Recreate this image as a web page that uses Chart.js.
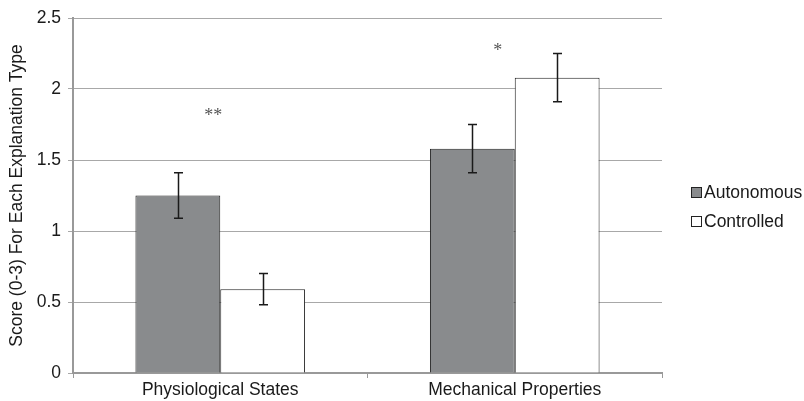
<!DOCTYPE html>
<html>
<head>
<meta charset="utf-8">
<script src="https://cdn.jsdelivr.net/npm/chart.js@4.4.1/dist/chart.umd.min.js"></script>
<style>
  html, body { margin: 0; padding: 0; background: #fff; }
  #wrap { width: 804px; height: 401px; }
</style>
</head>
<body>
<div id="wrap"><canvas id="c" width="804" height="401"></canvas></div>
<script>
// Explanation types on the x axis
const categories = ['Physiological States', 'Mechanical Properties'];
// Mean scores per group
const autonomous = [1.25, 1.58];
const controlled = [0.59, 2.08];
// Standard error (half-length of each error bar)
const autonomousErr = [0.16, 0.17];
const controlledErr = [0.11, 0.17];
// Significance markers: [category index, y value, text]
const sigMarks = [[0, 1.84, '**'], [1, 2.30, '*']];
// Y axis ticks
const yTicks = [0, 0.5, 1, 1.5, 2, 2.5];

const FONT = 'Liberation Sans, Arial, Helvetica, sans-serif';
const FS = 17.5;
// horizontal nudge of each significance marker relative to the group centre
const sigShift = [-7, -17];

const errorBars = {
  id: 'errorBars',
  afterDatasetsDraw(chart) {
    const ctx = chart.ctx;
    const y = chart.scales.y;
    ctx.save();
    ctx.strokeStyle = '#1a1a1a';
    ctx.lineWidth = 1.5;
    chart.data.datasets.forEach((ds, di) => {
      const meta = chart.getDatasetMeta(di);
      meta.data.forEach((bar, i) => {
        const v = ds.data[i], e = ds.errors[i];
        const x = Math.round(bar.x) + 0.5;
        const yTop = y.getPixelForValue(v + e);
        const yBot = y.getPixelForValue(v - e);
        ctx.beginPath();
        ctx.moveTo(x, yTop); ctx.lineTo(x, yBot);
        ctx.moveTo(x - 4.5, yTop); ctx.lineTo(x + 4.5, yTop);
        ctx.moveTo(x - 4.5, yBot); ctx.lineTo(x + 4.5, yBot);
        ctx.stroke();
      });
    });
    ctx.restore();
  }
};

const sigPlugin = {
  id: 'sigPlugin',
  afterDatasetsDraw(chart) {
    const ctx = chart.ctx;
    const ys = chart.scales.y;
    ctx.save();
    ctx.fillStyle = '#555';
    ctx.font = '18px "Liberation Serif", "Times New Roman", serif';
    ctx.textAlign = 'center';
    ctx.textBaseline = 'middle';
    sigMarks.forEach(([ci, v, t], k) => {
      const a = chart.getDatasetMeta(0).data[ci];
      const b = chart.getDatasetMeta(1).data[ci];
      const cx = (a.x + b.x) / 2 + sigShift[k];
      ctx.fillText(t, cx, ys.getPixelForValue(v) + 5);
    });
    ctx.restore();
  }
};

const sideLegend = {
  id: 'sideLegend',
  afterDraw(chart) {
    const ctx = chart.ctx;
    ctx.save();
    ctx.font = FS + 'px ' + FONT;
    ctx.textBaseline = 'middle';
    ctx.textAlign = 'left';
    const rows = [192, 221];
    chart.data.datasets.forEach((ds, i) => {
      const yc = rows[i];
      ctx.fillStyle = ds.backgroundColor;
      ctx.fillRect(691.5, yc - 4.5, 10, 10);
      ctx.strokeStyle = '#222';
      ctx.lineWidth = 1;
      ctx.strokeRect(691.5, yc - 4.5, 10, 10);
      ctx.fillStyle = '#1a1a1a';
      ctx.fillText(ds.label, 704, yc + 1);
    });
    ctx.restore();
  }
};

new Chart(document.getElementById('c'), {
  type: 'bar',
  data: {
    labels: categories,
    datasets: [
      { label: 'Autonomous', data: autonomous, errors: autonomousErr,
        backgroundColor: '#898b8d', borderColor: '#222', borderWidth: 1 },
      { label: 'Controlled', data: controlled, errors: controlledErr,
        backgroundColor: '#ffffff', borderColor: '#222', borderWidth: 1 }
    ]
  },
  options: {
    responsive: false,
    animation: false,
    devicePixelRatio: 1,
    layout: { padding: { top: 18, right: 142, left: 0, bottom: 0 } },
    plugins: { legend: { display: false }, tooltip: { enabled: false } },
    datasets: { bar: { categoryPercentage: 0.576, barPercentage: 1.0 } },
    scales: {
      x: {
        afterFit(s) { s.height = 28; },
        grid: { display: true, offset: true, drawOnChartArea: false, drawTicks: true,
                tickLength: 5, color: '#999', lineWidth: 1 },
        border: { display: true, color: '#999', width: 2 },
        ticks: { color: '#1a1a1a', font: { family: FONT, size: FS }, padding: 2 }
      },
      y: {
        min: 0, max: 2.5,
        afterFit(s) { s.width = 73; },
        afterBuildTicks(s) { s.ticks = yTicks.map(v => ({ value: v })); },
        grid: { color: '#a8a8a8', lineWidth: 1, drawTicks: true, tickLength: 5 },
        border: { display: true, color: '#999', width: 2 },
        ticks: { color: '#1a1a1a', font: { family: FONT, size: FS }, padding: 7,
                 callback: v => String(v) },
        title: { display: true, text: 'Score (0-3) For Each Explanation Type',
                 color: '#1a1a1a', font: { family: FONT, size: FS },
                 padding: { top: 7, bottom: 0 } }
      }
    }
  },
  plugins: [errorBars, sigPlugin, sideLegend]
});
</script>
</body>
</html>
